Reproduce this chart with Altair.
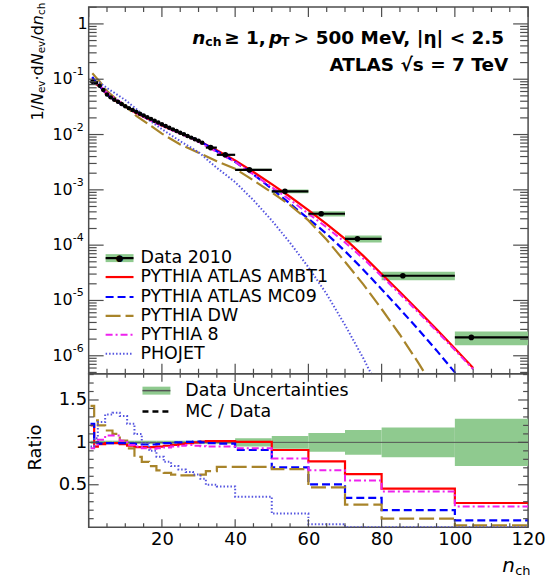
import altair as alt
import pandas as pd

# ---------------- values ----------------
data_fine_n = list(range(1, 32))
data_fine_val = [0.090, 0.086, 0.076, 0.064, 0.053, 0.047, 0.0425, 0.039, 0.0355, 0.0325,
                 0.030, 0.0277, 0.0257, 0.0238, 0.0221, 0.0206, 0.0192, 0.0178, 0.0165, 0.0153,
                 0.0143, 0.0133, 0.0124, 0.0116, 0.0108, 0.0101, 0.0094, 0.0088, 0.0082, 0.0077, 0.0071]
data_fine_unc = 0.02
data_wide_lo = [32, 35, 40, 50, 60, 70, 80, 100]
data_wide_hi = [35, 40, 50, 60, 70, 80, 100, 120]
data_wide_n = [33.3, 37.3, 43.9, 53.6, 63.5, 73.4, 85.8, 104.5]
data_wide_val = [0.0058, 0.0043, 0.0023, 9.4e-4, 3.7e-4, 1.3e-4, 2.8e-5, 2.15e-6]
data_wide_unc = [0.02, 0.02, 0.05, 0.075, 0.11, 0.145, 0.175, 0.28]

model_names = ["PYTHIA ATLAS AMBT1", "PYTHIA ATLAS MC09", "PYTHIA DW", "PYTHIA 8", "PHOJET"]
model_n = [1, 2, 3, 5, 7, 10, 13, 16, 20, 25, 30, 35, 40, 45, 50, 55, 60, 65, 70, 75, 80, 85, 90, 95, 100, 105]
ambt1 = [0.105, 0.081, 0.0745, 0.0525, 0.042, 0.032, 0.0243, 0.0195, 0.0145, 0.0105, 0.0077, 0.0052, 0.0034,
         0.0021, 0.00127, 7.5e-4, 4.3e-4, 2.4e-4, 1.3e-4, 6.4e-5, 3.0e-5, 1.42e-5, 6.6e-6, 3.0e-6, 1.35e-6, 6.0e-7]
mc09 = [0.11, 0.086, 0.075, 0.0525, 0.042, 0.032, 0.0252, 0.0201, 0.015, 0.0108, 0.0078, 0.0050, 0.0032,
        0.0019, 0.00105, 5.6e-4, 3.0e-4, 1.6e-4, 7.8e-5, 3.6e-5, 1.6e-5, 7.0e-6, 3.0e-6, 1.25e-6, 5.0e-7, 2.0e-7]
dw = [0.128, 0.108, 0.091, 0.061, 0.047, 0.033, 0.0218, 0.0159, 0.0104, 0.0066, 0.0047, 0.0033, 0.0024,
      0.00148, 9.0e-4, 5.3e-4, 2.8e-4, 1.25e-4, 5.0e-5, 1.95e-5, 7.0e-6, 2.4e-6, 7.5e-7, 2.2e-7, 6.0e-8, 1.5e-8]
py8 = [0.084, 0.083, 0.078, 0.057, 0.046, 0.033, 0.0244, 0.0192, 0.0142, 0.0104, 0.0074, 0.0048, 0.0032,
       0.0019, 0.00112, 6.6e-4, 3.7e-4, 2.1e-4, 1.12e-4, 5.7e-5, 2.75e-5, 1.3e-5, 6.1e-6, 2.8e-6, 1.27e-6, 5.7e-7]
phojet = [0.0855, 0.09, 0.087, 0.069, 0.057, 0.042, 0.029, 0.0192, 0.0125, 0.0076, 0.0048, 0.0025, 0.00138,
          6.5e-4, 2.8e-4, 1.1e-4, 4.0e-5, 1.3e-5, 3.6e-6, 9.0e-7, 2.0e-7, 4.0e-8, 8.0e-9, 1.5e-9, 3e-10, 6e-11]

ratio_edges = [0.5, 1.5, 2.5, 4.5, 6.5, 8.5, 10.5, 12.5, 14.5, 16.5, 18.5, 20.5, 22.5, 24.5, 26.5, 28.5,
               30.5, 32, 35, 40, 50, 60, 70, 80, 100, 120]
ratio_ambt1 = [1.2, 0.95, 0.98, 0.99, 0.99, 0.98, 0.96, 0.945, 0.945, 0.945, 0.95, 0.96, 0.97, 0.98, 0.99,
               1.0, 1.01, 1.015, 1.015, 1.005, 0.91, 0.775, 0.625, 0.455, 0.285]
ratio_mc09 = [1.22, 1.0, 0.985, 0.99, 0.99, 0.99, 0.985, 0.98, 0.975, 0.975, 0.98, 0.99, 1.0, 1.0, 1.005,
              1.01, 1.0, 0.99, 0.985, 0.91, 0.705, 0.505, 0.345, 0.2, 0.08]
ratio_dw = [1.43, 1.26, 1.2, 1.14, 1.1, 1.02, 0.93, 0.83, 0.77, 0.72, 0.67, 0.64, 0.62, 0.61, 0.61, 0.61,
            0.62, 0.66, 0.71, 0.71, 0.685, 0.47, 0.265, 0.10, 0.02]
ratio_py8 = [0.93, 0.96, 1.03, 1.08, 1.08, 1.02, 0.97, 0.95, 0.93, 0.925, 0.93, 0.94, 0.95, 0.96, 0.97,
             0.96, 0.955, 0.95, 0.95, 0.93, 0.81, 0.67, 0.55, 0.42, 0.245]
ratio_phojet = [0.95, 1.05, 1.24, 1.33, 1.35, 1.31, 1.22, 1.1, 0.99, 0.9, 0.83, 0.77, 0.72, 0.68, 0.65,
                0.62, 0.57, 0.5, 0.48, 0.36, 0.16, 0.035, 0.0, 0.0, 0.0]
ratio_unc = [0.02] * 19 + [0.05, 0.075, 0.11, 0.145, 0.175, 0.28]

x_major = [0, 20, 40, 60, 80, 100, 120]
x_labels = [20, 40, 60, 80, 100, 120]
y_decades = [1e-6, 1e-5, 1e-4, 1e-3, 1e-2, 1e-1, 1]
ratio_labels = [0.5, 1, 1.5]

# ---------------- styling / layout ----------------
W, H_TOP, H_BOT = 441, 368, 154
FRAME = "#4d4d4d"
FONT = "DejaVu Sans"
GREEN = "#8fca8f"
styles = {
    "PYTHIA ATLAS AMBT1": dict(color="#ff0000", strokeWidth=2.2),
    "PYTHIA ATLAS MC09": dict(color="#0000ff", strokeWidth=2.2, strokeDash=[8, 4]),
    "PYTHIA DW": dict(color="#a8842a", strokeWidth=2.2, strokeDash=[15, 5]),
    "PYTHIA 8": dict(color="#ee22ee", strokeWidth=2.0, strokeDash=[7, 3, 2, 3]),
    "PHOJET": dict(color="#5555e0", strokeWidth=2.0, strokeDash=[1.5, 2]),
}
top_vals = dict(zip(model_names, [ambt1, mc09, dw, py8, phojet]))
ratio_vals = dict(zip(model_names, [ratio_ambt1, ratio_mc09, ratio_dw, ratio_py8, ratio_phojet]))

xs = alt.Scale(domain=[0, 120], nice=False, zero=False)
ys_top = alt.Scale(type="log", domain=[4.74e-7, 2.02], nice=False)
ys_bot = alt.Scale(domain=[0, 1.81], nice=False, zero=False)

x_axis = alt.Axis(values=x_labels, labelFont=FONT, labelFontSize=18, labelColor="black", ticks=False,
                  domain=False, grid=False, title=None, labelPadding=3, labelFlush=False)
y_axis = alt.Axis(values=ratio_labels, format="~g", labelFont=FONT, labelFontSize=18, labelColor="black",
                  ticks=False, domain=False, grid=False, title=None, labelPadding=2)

one = pd.DataFrame({"k": [0]})


def xt(f):
    return alt.X(f, type="quantitative", scale=xs, axis=None)


def yt(f):
    return alt.Y(f, type="quantitative", scale=ys_top, axis=None)


def xb(f):
    return alt.X(f, type="quantitative", scale=xs, axis=x_axis)


def yb(f):
    return alt.Y(f, type="quantitative", scale=ys_bot, axis=y_axis)


def txt(text, x, y, size, **kw):
    return alt.Chart(one).mark_text(text=text, font=FONT, fontSize=size, color="black", **kw).encode(
        x=alt.value(x), y=alt.value(y))


def hline(x1, x2, y, **kw):
    return alt.Chart(one).mark_rule(**kw).encode(x=alt.value(x1), x2=alt.value(x2), y=alt.value(y))


def box(x1, x2, y1, y2, **kw):
    return alt.Chart(one).mark_rect(**kw).encode(x=alt.value(x1), x2=alt.value(x2), y=alt.value(y1), y2=alt.value(y2))


# ---------------- data frames ----------------
rows = []
for n, v in zip(data_fine_n, data_fine_val):
    rows.append(dict(n=n, lo=n - 0.5, hi=n + 0.5, v=v, vlo=v * (1 - data_fine_unc), vhi=v * (1 + data_fine_unc), fine=1))
for lo, hi, n, v, u in zip(data_wide_lo, data_wide_hi, data_wide_n, data_wide_val, data_wide_unc):
    rows.append(dict(n=n, lo=lo, hi=hi, v=v, vlo=v * (1 - u), vhi=v * (1 + u), fine=0))
data_df = pd.DataFrame(rows)

x_minor = [v for v in range(0, 121, 5) if v % 20 != 0]
y_minor = [m * d for d in [1e-7] + y_decades for m in range(2, 10) if 4.74e-7 <= m * d <= 2.02]


def xticks(values, length, height, xenc):
    df = pd.DataFrame({"t": values})
    a = alt.Chart(df).mark_rule(color=FRAME, strokeWidth=1.2).encode(x=xenc("t"), y=alt.value(0), y2=alt.value(length))
    b = alt.Chart(df).mark_rule(color=FRAME, strokeWidth=1.2).encode(x=xenc("t"), y=alt.value(height - length), y2=alt.value(height))
    return [a, b]


def yticks(values, length, yenc):
    df = pd.DataFrame({"t": values})
    a = alt.Chart(df).mark_rule(color=FRAME, strokeWidth=1.2).encode(y=yenc("t"), x=alt.value(0), x2=alt.value(length))
    b = alt.Chart(df).mark_rule(color=FRAME, strokeWidth=1.2).encode(y=yenc("t"), x=alt.value(W - length), x2=alt.value(W))
    return [a, b]


# ---------------- top panel ----------------
top_layers = [box(-88, W + 25, -5, H_TOP, opacity=0)]
top_layers.append(alt.Chart(data_df).mark_rect(color=GREEN).encode(x=xt("lo"), x2="hi", y=yt("vlo"), y2="vhi"))
for name in model_names:
    df = pd.DataFrame({"n": model_n, "v": top_vals[name]})
    top_layers.append(alt.Chart(df).mark_line(clip=True, **styles[name]).encode(x=xt("n"), y=yt("v")))
top_layers.append(alt.Chart(data_df).mark_rule(color="black", strokeWidth=2.2).encode(x=xt("lo"), x2="hi", y=yt("v")))
top_layers.append(alt.Chart(data_df).transform_filter("datum.fine == 1").mark_circle(color="black", size=20, opacity=1).encode(x=xt("n"), y=yt("v")))
top_layers.append(alt.Chart(data_df).transform_filter("datum.fine == 0").mark_circle(color="black", size=32, opacity=1).encode(x=xt("n"), y=yt("v")))
top_layers += xticks(x_major, 10, H_TOP, xt) + xticks(x_minor, 5, H_TOP, xt)
top_layers += yticks(y_decades, 15, yt) + yticks(y_minor, 8, yt)

# y labels with superscripts
dec_df = pd.DataFrame({"v": y_decades[:-1], "e": ["-6", "-5", "-4", "-3", "-2", "-1"]})
top_layers.append(alt.Chart(dec_df).mark_text(text="10", font=FONT, fontSize=16, align="right", baseline="middle", color="black").encode(
    x=alt.value(-16), y=yt("v")))
top_layers.append(alt.Chart(dec_df).mark_text(font=FONT, fontSize=11, align="left", baseline="middle", dy=-7, color="black").encode(
    x=alt.value(-16), y=yt("v"), text="e:N"))
top_layers.append(alt.Chart(pd.DataFrame({"v": [1]})).mark_text(text="1", font=FONT, fontSize=16, align="right", baseline="middle", color="black").encode(
    x=alt.value(-1), y=yt("v")))

# legend (top)
leg_y = [252, 271, 291, 310, 329, 348]
top_layers.append(box(17, 45, leg_y[0] - 4, leg_y[0] + 4, color=GREEN))
top_layers.append(hline(17, 45, leg_y[0], color="black", strokeWidth=2.2))
top_layers.append(txt("●", 31, leg_y[0], 9, align="center", baseline="middle"))
top_layers.append(txt("Data 2010", 52, leg_y[0], 17.5, align="left", baseline="middle"))
for name, yy in zip(model_names, leg_y[1:]):
    top_layers.append(hline(17, 45, yy, **styles[name]))
    top_layers.append(txt(name, 52, yy, 17.5, align="left", baseline="middle"))

# header
top_layers.append(txt("n", 104, 30.7, 18.5, align="left", fontWeight="bold", fontStyle="italic"))
top_layers.append(txt("ch", 117, 35.2, 12.5, align="left", fontWeight="bold"))
top_layers.append(txt("≥ 1,", 136, 30.7, 18.5, align="left", fontWeight="bold"))
top_layers.append(txt("p", 181, 30.7, 18.5, align="left", fontWeight="bold", fontStyle="italic"))
top_layers.append(txt("T", 193, 35.2, 12.5, align="left", fontWeight="bold"))
top_layers.append(txt("> 500 MeV, |η| < 2.5", 417, 30.7, 18.5, align="right", fontWeight="bold"))
top_layers.append(txt("ATLAS √s = 7 TeV", 421, 58.3, 18.5, align="right", fontWeight="bold"))

# rotated y title pieces: (text, start y (canvas), is_sub, italic)
title_pieces = [("1/", 119, False, False), ("N", 103.4, False, True), ("ev", 91.4, True, False),
                ("·d", 78.7, False, False), ("N", 63.5, False, True), ("ev", 51.5, True, False),
                ("/d", 38.8, False, False), ("n", 23.2, False, True), ("ch", 13.1, True, False)]
for t, yy, sub, ital in title_pieces:
    kw = dict(angle=270, align="left")
    if ital:
        kw["fontStyle"] = "italic"
    top_layers.append(txt(t, (41 if sub else 37) - 88, yy - 5, 10.5 if sub else 16, **kw))

top = alt.layer(*top_layers).properties(width=W, height=H_TOP)

# ---------------- bottom panel ----------------
band_df = pd.DataFrame({
    "lo": ratio_edges[:-1], "hi": ratio_edges[1:],
    "rlo": [1 - u for u in ratio_unc], "rhi": [1 + u for u in ratio_unc],
})

bot_layers = [box(-88, W + 25, 0, H_BOT + 54, opacity=0)]
bot_layers.append(alt.Chart(band_df).mark_rect(color=GREEN).encode(x=xb("lo"), x2="hi", y=yb("rlo"), y2="rhi"))
bot_layers.append(alt.Chart(pd.DataFrame({"r": [1], "a": [0], "b": [120]})).mark_rule(color="#555555", strokeWidth=1).encode(
    y=yb("r"), x=xb("a"), x2="b"))
for name in model_names:
    vals = ratio_vals[name]
    df = pd.DataFrame({"x": ratio_edges, "r": vals + [vals[-1]]})
    bot_layers.append(alt.Chart(df).mark_line(interpolate="step-after", clip=True, **styles[name]).encode(
        x=xb("x"), y=yb("r")))
bot_layers += xticks(x_major, 8, H_BOT, xb) + xticks(x_minor, 4, H_BOT, xb)
bot_layers += yticks([0.5, 1.0, 1.5], 10, yb) + yticks([0.1, 0.2, 0.3, 0.4, 0.6, 0.7, 0.8, 0.9, 1.1, 1.2, 1.3, 1.4, 1.6, 1.7, 1.8], 5, yb)

# legend (bottom)
bot_layers.append(box(54, 82, 13, 21, color=GREEN))
bot_layers.append(hline(54, 82, 17, color="#555555", strokeWidth=1.5))
bot_layers.append(txt("Data Uncertainties", 97, 17, 17.5, align="left", baseline="middle"))
bot_layers.append(hline(54, 82, 38, color="black", strokeWidth=2.5, strokeDash=[6, 4]))
bot_layers.append(txt("MC / Data", 97, 38, 17.5, align="left", baseline="middle"))

# titles
bot_layers.append(txt("Ratio", -53, 74, 18, angle=270, align="center"))
bot_layers.append(txt("n", 415, 193, 20, align="left", fontStyle="italic"))
bot_layers.append(txt("ch", 428, 198, 13, align="left"))

bot = alt.layer(*bot_layers).properties(width=W, height=H_BOT)

chart = alt.vconcat(top, bot, spacing=0, bounds="flush").properties(padding=0).configure_view(
    stroke=FRAME, strokeWidth=1.5)

chart.save("out.html", embed_options={"renderer": "svg", "actions": False})
